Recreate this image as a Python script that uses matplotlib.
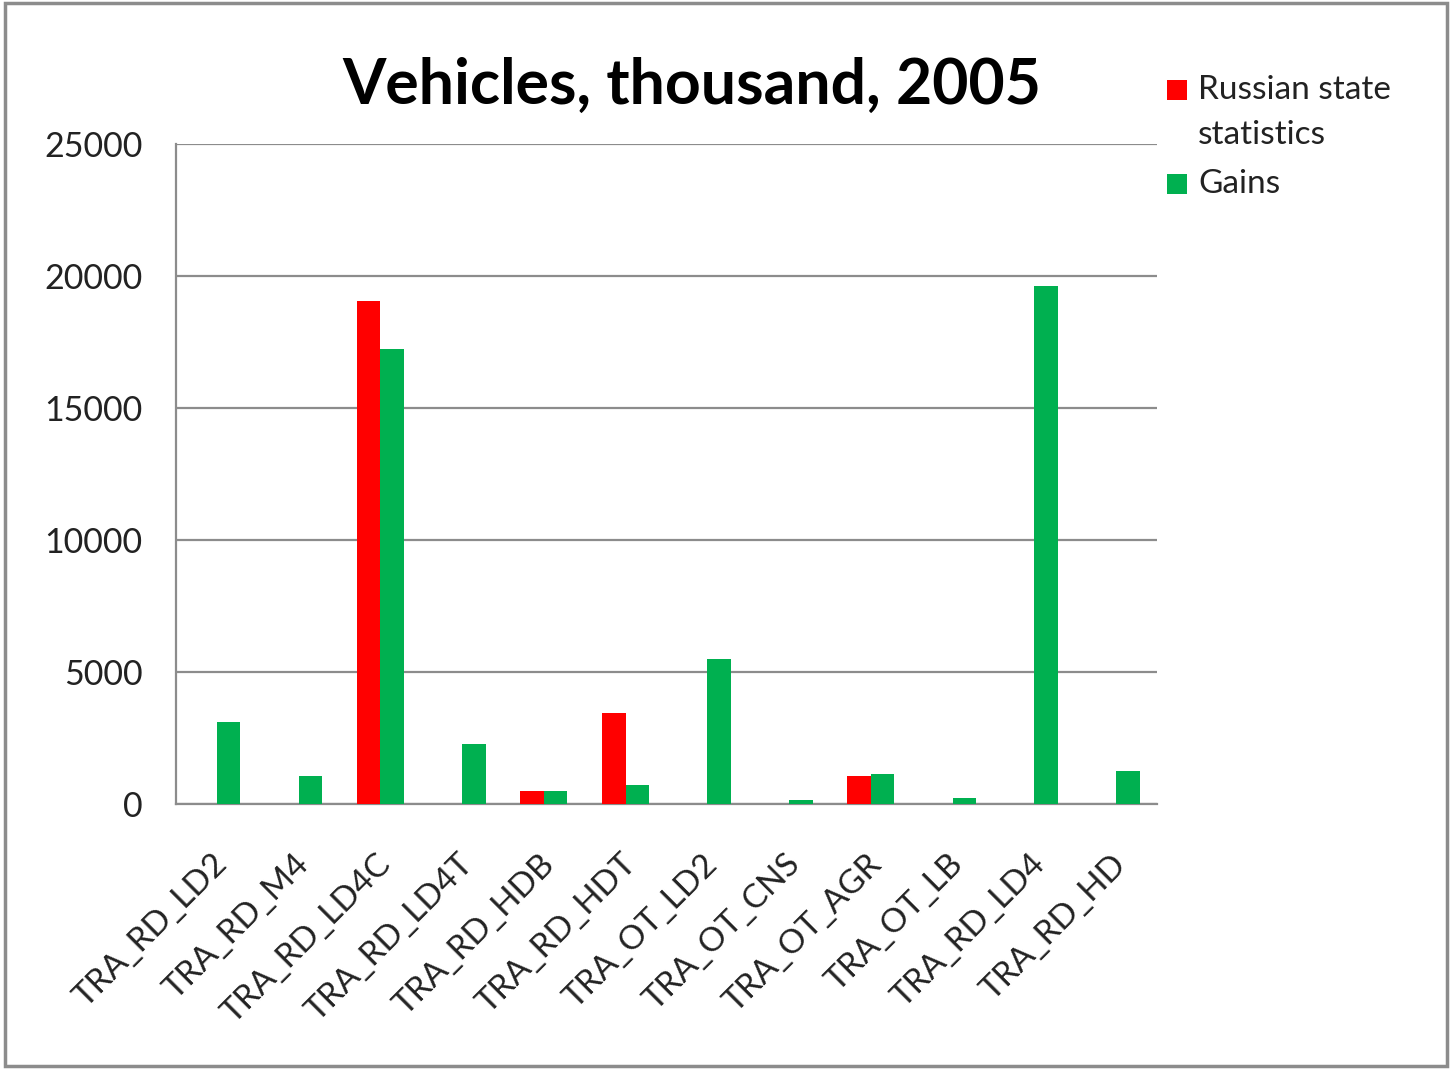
import matplotlib
matplotlib.use("Agg")
import matplotlib.pyplot as plt
import matplotlib.transforms as mtransforms
import numpy as np
from matplotlib.patches import Rectangle

categories = ["TRA_RD_LD2", "TRA_RD_M4", "TRA_RD_LD4C", "TRA_RD_LD4T", "TRA_RD_HDB",
              "TRA_RD_HDT", "TRA_OT_LD2", "TRA_OT_CNS", "TRA_OT_AGR", "TRA_OT_LB",
              "TRA_RD_LD4", "TRA_RD_HD"]
russian = [0, 0, 19040, 0, 490, 3460, 0, 0, 1060, 0, 0, 0]
gains = [3120, 1050, 17250, 2280, 490, 710, 5500, 150, 1120, 230, 19620, 1260]
series_names = [["Russian state", "statistics"], ["Gains"]]
series_colors = ["#FF0000", "#00B050"]
yticks = [0, 5000, 10000, 15000, 20000, 25000]

plt.rcParams['font.family'] = ['Lato', 'DejaVu Sans']

W, H = 1450, 1069
fig = plt.figure(figsize=(W / 100, H / 100), dpi=100)
ax = fig.add_axes([176 / W, 1 - 804 / H, (1157 - 176) / W, (804 - 144) / H])

x = np.arange(len(categories))
bw = 0.2875
ax.bar(x - bw / 2, russian, bw, color=series_colors[0], zorder=3)
ax.bar(x + bw / 2, gains, bw, color=series_colors[1], zorder=3)

ax.set_xlim(-0.5, len(categories) - 0.5)
ax.set_ylim(0, 25000)
ax.set_yticks(yticks)
ax.set_yticklabels([str(v) for v in yticks], fontsize=24.5, color="#222222")
ax.yaxis.grid(True, color="#8C8C8C", linewidth=1.6, zorder=0)
ax.set_axisbelow(True)
ax.tick_params(axis='y', length=0, pad=24)
ax.set_xticks(x)
ax.set_xticklabels(categories, rotation=45, ha='right', va='center', rotation_mode='anchor',
                   fontsize=24, color="#222222")
ax.tick_params(axis='x', length=0, pad=40)
offset = mtransforms.ScaledTranslation(6 / 100, 0, fig.dpi_scale_trans)
for lbl in ax.get_xticklabels():
    lbl.set_transform(lbl.get_transform() + offset)
for s in ['top', 'right']:
    ax.spines[s].set_visible(False)
for s in ['left', 'bottom']:
    ax.spines[s].set_color("#8C8C8C")
    ax.spines[s].set_linewidth(1.6)

fig.text(692 / W, 1 - 86 / H, "Vehicles, thousand, 2005", ha='center', va='center',
         fontsize=45, fontweight='bold', color="black")

# legend (drawn manually to match the wrapped label layout)
line_y = [[90, 135], [184]]
for name_lines, ys, col in zip(series_names, line_y, series_colors):
    fig.patches.append(Rectangle((1167 / W, 1 - (ys[0] + 10) / H), 20 / W, 20 / H,
                                 transform=fig.transFigure, facecolor=col, edgecolor='none'))
    for txt, yy in zip(name_lines, ys):
        fig.text(1198 / W, 1 - yy / H, txt, ha='left', va='center', fontsize=24,
                 color="#222222")

fig.patches.append(Rectangle((5 / W, 3 / H), (1447 - 5) / W, (1066 - 3) / H,
                             transform=fig.transFigure, fill=False,
                             edgecolor="#8C8C8C", linewidth=2.5))

fig.savefig("out.png", dpi=100)
